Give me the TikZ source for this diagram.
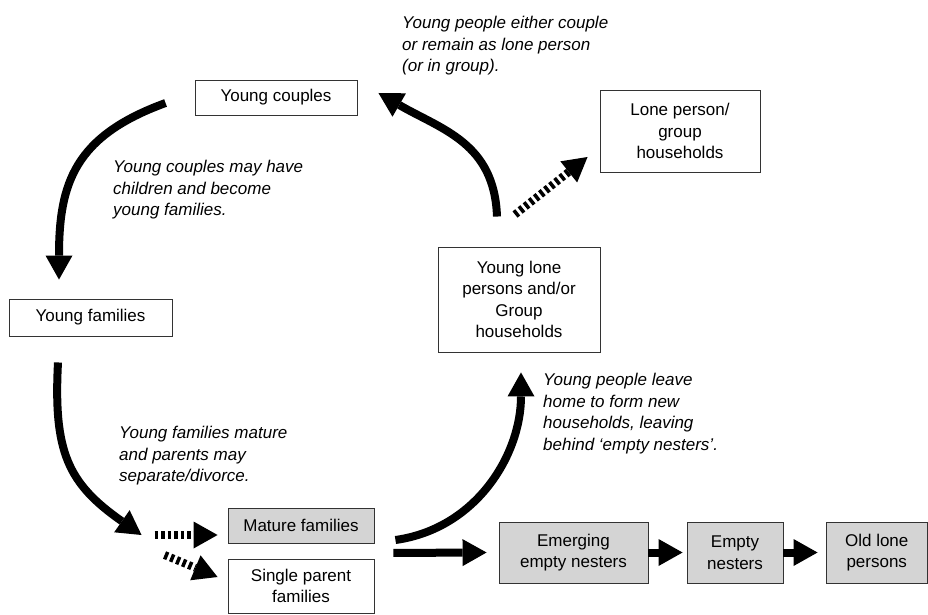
\documentclass[tikz,border=0pt]{standalone}
\usepackage{fontspec}
\setmainfont{Liberation Sans}
\usetikzlibrary{arrows.meta}
\begin{document}
\begin{tikzpicture}[x=1pt,y=1pt,
 box/.style={draw=black!80,line width=0.9pt,align=center,inner sep=0pt,font=\fontsize{17pt}{21.5pt}\selectfont},
 gbox/.style={box,fill=black!17},
 note/.style={anchor=north west,inner sep=0pt,align=left,font=\fontsize{17pt}{21.5pt}\selectfont\itshape},
 flow/.style={line width=8pt,-{Triangle[length=24pt,width=27pt,line width=0pt]}},
 dflow/.style={flow,dash pattern=on 3.5pt off 3pt}]
\useasboundingbox (0,0) rectangle (928,614);
\node[box,minimum width=162pt,minimum height=35pt] (yc) at (276,516.5) {Young couples};
\node[box,minimum width=160pt,minimum height=82pt] (lone) at (680,483) {Lone person/\\group\\households};
\node[box,minimum width=162pt,minimum height=105pt] (ylp) at (519,314.5) {Young lone\\persons and/or\\Group\\households};
\node[box,minimum width=163pt,minimum height=37pt] (yf) at (90.5,296.5) {Young families};
\node[gbox,minimum width=146pt,minimum height=35pt] (mf) at (301,88.5) {Mature families};
\node[box,minimum width=146pt,minimum height=54pt] (sp) at (301,28) {Single parent\\families};
\node[gbox,minimum width=149pt,minimum height=61pt] (een) at (573.5,61.5) {Emerging\\empty nesters};
\node[gbox,minimum width=96pt,minimum height=61pt] (emp) at (735,61.5) {Empty\\nesters};
\node[gbox,minimum width=101.5pt,minimum height=61pt] (old) at (876.75,61.5) {Old lone\\persons};
\node[note] (n1) at (402,598) {Young people either couple\\or remain as lone person\\(or in group).};
\node[note] (n2) at (113,454) {Young couples may have\\children and become\\young families.};
\node[note] (n3) at (119,188) {Young families mature\\and parents may\\separate/divorce.};
\node[note] (n4) at (543,241) {Young people leave\\home to form new\\households, leaving\\behind ‘empty nesters’.};
\draw[flow] ([shift={(-29,-5.5)}]yc.west) to[out=200,in=90,looseness=1.2] ([shift={(-31.5,19)}]yf.north);
\draw[flow] ([shift={(-32.5,-26)}]yf.south) to[out=-93,in=145,looseness=1.2] ([shift={(-86,-9.5)}]mf.west);
\draw[flow] ([shift={(-22,30)}]ylp.north) to[out=92,in=-30,looseness=1.1] ([shift={(21,4.5)}]yc.east);
\draw[dflow] ([shift={(-4,32)}]ylp.north) -- ([shift={(-12,-26)}]lone.west);
\draw[flow] ([shift={(21,-14.5)}]mf.east) to[out=8,in=-90] ([shift={(2,-20)}]ylp.south);
\draw[flow] ([shift={(19,-9.5)}]mf.south east) -- ([xshift=-12]een.west);
\draw[flow] (een.east) -- ([xshift=-4]emp.west);
\draw[flow] (emp.east) -- ([xshift=-8]old.west);
\draw[dflow] ([shift={(-73,-9.5)}]mf.west) -- ([shift={(-10,-9.5)}]mf.west);
\draw[dflow] ([shift={(-63,31)}]sp.west) -- ([shift={(-10,9)}]sp.west);
\end{tikzpicture}
\end{document}
